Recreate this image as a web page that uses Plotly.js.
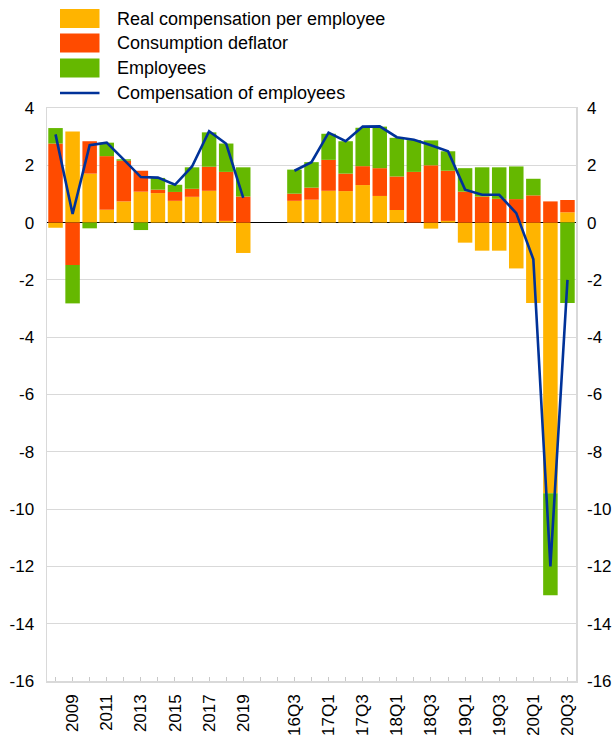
<!DOCTYPE html>
<html><head><meta charset="utf-8">
<script src="https://cdn.plot.ly/plotly-3.0.1.min.js"></script>
<style>html,body{margin:0;padding:0;background:#fff}</style>
</head><body><div id="chart" style="width:616px;height:735px"></div>
<script>
// ---- data ----
const annualLabels = ["2008","2009","2010","2011","2012","2013","2014","2015","2016","2017","2018","2019"];
const quarterLabels = ["16Q3","16Q4","17Q1","17Q2","17Q3","17Q4","18Q1","18Q2","18Q3","18Q4","19Q1","19Q2","19Q3","19Q4","20Q1","20Q2","20Q3"];
const seriesNames = ["Real compensation per employee","Consumption deflator","Employees","Compensation of employees"];

const realCompAnnual  = [-0.18, 3.18, 1.71, 0.45, 0.74, 1.08, 1.03, 0.76, 0.90, 1.11, 0.06, -1.06];
const deflatorAnnual  = [ 2.76,-1.48, 1.13, 1.87, 1.42, 0.73, 0.12, 0.31, 0.28, 0.84, 1.71, 0.91];
const employeesAnnual = [ 0.54,-1.34,-0.20, 0.47, 0.05,-0.26, 0.41, 0.25, 0.75, 1.20, 0.99, 1.02];
const compAnnual      = [ 3.08, 0.30, 2.70, 2.79, 2.20, 1.59, 1.57, 1.32, 1.96, 3.19, 2.75, 0.86];

const realCompQ  = [0.76, 0.80, 1.11, 1.10, 1.31, 0.93, 0.44, 0.00, -0.21, 0.06, -0.70, -0.98, -0.98, -1.60, -2.81, -9.45, 0.36];
const deflatorQ  = [0.25, 0.42, 1.08, 0.61, 0.66, 0.97, 1.17, 1.77,  2.00, 1.75,  1.08,  0.91,  0.83,  0.82,  0.95,  0.74, 0.43];
const employeesQ = [0.84, 0.89, 0.91, 1.13, 1.34, 1.45, 1.35, 1.11,  0.87, 0.68,  0.82,  1.02,  1.10,  1.14,  0.58, -3.56, -2.81];
const compQ      = [1.81, 2.11, 3.14, 2.84, 3.35, 3.36, 2.98, 2.89,  2.70, 2.49,  1.15,  0.97,  0.97,  0.33, -1.28, -12.0, -2.00];

const yTicks = [4, 2, 0, -2, -4, -6, -8, -10, -12, -14, -16];
const yTickText = ["4", "2", "0", "-2", "-4", "-6", "-8", "-10", "-12", "-14", "-16"];

// ---- styles ----
const colors = ["#FFB400", "#FF4B00", "#65B800", "#003299"];
const FONT = "Liberation Sans, Arial, sans-serif";
const FS = 17;
const LEG_FS = 18;

// ---- positions (category slots, with two empty slots between blocks) ----
const gapSlots = 2;
const xA = annualLabels.map((_, i) => i);
const qStart = annualLabels.length + gapSlots;
const xQ = quarterLabels.map((_, i) => qStart + i);
const xAll = xA.concat(xQ);
const nSlots = qStart + quarterLabels.length;

const tickvals = [], ticktext = [];
for (let s = 0; s < nSlots; s++) { tickvals.push(s); ticktext.push(""); }
annualLabels.forEach((l, i) => { if (i % 2 === 1) ticktext[xA[i]] = l; });
quarterLabels.forEach((l, i) => { if (i % 2 === 0) ticktext[xQ[i]] = l; });

const barSeries = [
  realCompAnnual.concat(realCompQ),
  deflatorAnnual.concat(deflatorQ),
  employeesAnnual.concat(employeesQ)
];

const traces = barSeries.map((ys, k) => ({
  type: "bar", x: xAll, y: ys, name: seriesNames[k],
  marker: {color: colors[k], line: {width: 0}},
  width: 0.85, showlegend: false, hoverinfo: "x+y+name"
}));

traces.push({
  type: "scatter", mode: "lines",
  x: xA.concat([(xA[xA.length-1] + xQ[0]) / 2]).concat(xQ),
  y: compAnnual.concat([null]).concat(compQ),
  name: seriesNames[3], connectgaps: false,
  line: {color: colors[3], width: 2.6}, showlegend: false
});

// invisible trace to show the right-hand axis
traces.push({type: "scatter", mode: "none", x: [0], y: [0], yaxis: "y2",
  showlegend: false, hoverinfo: "skip"});

// ---- manual legend (pixel positions converted to paper coords) ----
const M = {l: 47, r: 40, t: 108, b: 54};
const W = 616, H = 735;
const pw = W - M.l - M.r, ph = H - M.t - M.b;
const px = v => (v - M.l) / pw;
const py = v => (H - M.b - v) / ph;

const legendRows = [18.5, 43, 68, 93];
const shapes = [];
const annotations = [];
seriesNames.forEach((name, k) => {
  const yc = legendRows[k];
  if (k < 3) {
    shapes.push({type: "rect", xref: "paper", yref: "paper",
      x0: px(60), x1: px(99.5), y0: py(yc - 9.5), y1: py(yc + 9.5),
      fillcolor: colors[k], line: {width: 0}});
  } else {
    shapes.push({type: "line", xref: "paper", yref: "paper",
      x0: px(60), x1: px(99.5), y0: py(yc), y1: py(yc),
      line: {color: colors[k], width: 2.6}});
  }
  annotations.push({xref: "paper", yref: "paper", x: px(115), y: py(yc),
    xanchor: "left", yanchor: "middle", showarrow: false, text: name,
    font: {family: FONT, size: LEG_FS, color: "#000"}});
});

const yRange = [-16, 4];

const layout = {
  width: W, height: H,
  margin: M,
  paper_bgcolor: "#fff", plot_bgcolor: "#fff",
  barmode: "relative", bargap: 0.15,
  showlegend: false,
  font: {family: FONT, size: FS, color: "#000"},
  xaxis: {
    range: [-0.5, nSlots - 0.5],
    tickmode: "array", tickvals: tickvals, ticktext: ticktext,
    tickangle: -90, ticks: "inside", ticklen: 4, tickcolor: "#c8c8c8",
    showline: true, linecolor: "#d9d9d9", linewidth: 1.5, mirror: true,
    showgrid: false, zeroline: false, ticklabelstandoff: 5,
    tickfont: {family: FONT, size: FS, color: "#000"}
  },
  yaxis: {
    range: yRange, tickmode: "array", tickvals: yTicks, ticktext: yTickText,
    showgrid: true, gridcolor: "#d9d9d9", gridwidth: 1.2,
    zeroline: true, zerolinecolor: "#000", zerolinewidth: 1.6,
    showline: true, linecolor: "#d9d9d9", linewidth: 1.5, mirror: true,
    ticks: "", ticklabelstandoff: 8,
    tickfont: {family: FONT, size: FS, color: "#000"}
  },
  yaxis2: {
    range: yRange, tickmode: "array", tickvals: yTicks, ticktext: yTickText,
    overlaying: "y", side: "right", showgrid: false, zeroline: false,
    showline: false, ticks: "", ticklabelstandoff: 10,
    tickfont: {family: FONT, size: FS, color: "#000"}
  },
  shapes: shapes,
  annotations: annotations
};

Plotly.newPlot("chart", traces, layout, {displayModeBar: false, staticPlot: true});
</script>
</body></html>
